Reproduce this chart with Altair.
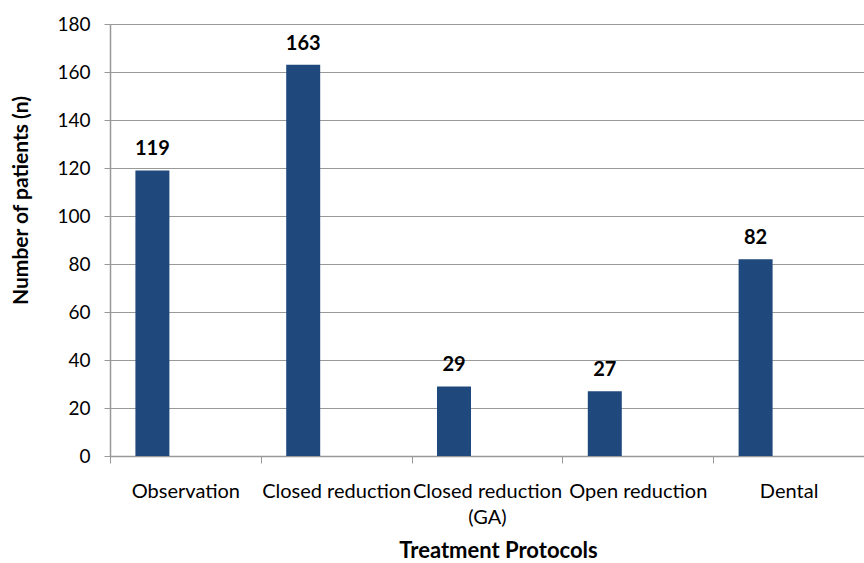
import altair as alt
import pandas as pd

categories = ["Observation", "Closed reduction", "Closed reduction (GA)", "Open reduction", "Dental"]
values = [119, 163, 29, 27, 82]

df = pd.DataFrame({"protocol": categories, "n": values})

FONT = "Lato"
GRID = "#999999"
SHIFT = -33

x_enc = alt.X(
    "protocol:N",
    sort=categories,
    scale=alt.Scale(paddingInner=0, paddingOuter=0),
    axis=alt.Axis(
        title="Treatment Protocols",
        labelAngle=0,
        labelFont=FONT,
        labelFontSize=20,
        labelColor="#000000",
        labelPadding=18,
        labelLineHeight=26,
        labelExpr="datum.label == 'Closed reduction (GA)' ? ['Closed reduction', '(GA)'] : datum.label",
        tickBand="extent",
        tickSize=7,
        tickColor=GRID,
        domainColor=GRID,
        domainWidth=1.5,
        titleFont=FONT,
        titleFontSize=22,
        titleFontWeight="bold",
        titleColor="#000000",
        titleX=388,
        titleY=94,
        titleAlign="center",
        titleBaseline="middle",
        labelLimit=300,
    ),
)

y_enc = alt.Y(
    "n:Q",
    scale=alt.Scale(domain=[0, 180], nice=False),
    axis=alt.Axis(
        title="Number of patients (n)",
        values=list(range(0, 181, 20)),
        labelFont=FONT,
        labelFontSize=19,
        labelColor="#000000",
        labelPadding=14,
        tickSize=6,
        tickColor=GRID,
        domainColor=GRID,
        domainWidth=1.5,
        grid=True,
        gridColor=GRID,
        gridWidth=1.2,
        titleFont=FONT,
        titleFontSize=21,
        titleFontWeight="bold",
        titleColor="#000000",
        titleX=-83,
        titleY=176,
        titleAngle=-90,
        titleAlign="center",
        titleBaseline="alphabetic",
    ),
)

base = alt.Chart(df)

bars = base.mark_bar(size=34, color="#1F497D", xOffset=SHIFT).encode(x=x_enc, y=y_enc)

labels = base.mark_text(
    font=FONT, fontSize=20, fontWeight="bold", color="#000000",
    baseline="alphabetic", dy=-15, dx=SHIFT,
).encode(x=alt.X("protocol:N", sort=categories), y="n:Q", text="n:Q")

chart = (
    alt.layer(bars, labels)
    .properties(
        width=754,
        height=432,
        autosize=alt.AutoSizeParams(type="none"),
        padding={"left": 110, "top": 24, "right": 0, "bottom": 107},
        background="white",
    )
    .configure_view(stroke=None)
)

chart.save("out.html", embed_options={"renderer": "svg", "actions": False})
